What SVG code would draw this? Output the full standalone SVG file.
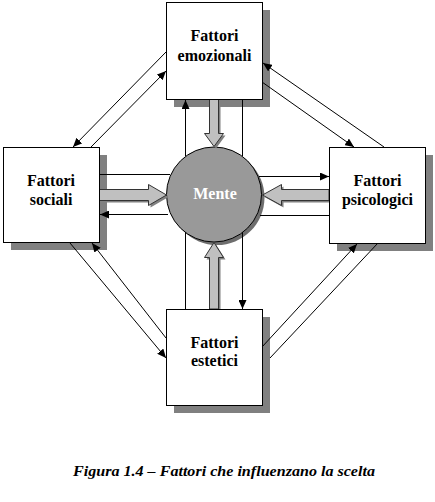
<svg xmlns="http://www.w3.org/2000/svg" width="435" height="502" viewBox="0 0 435 502">
<style>
.shadow{fill:#808080;}
.box{fill:#ffffff;stroke:#000000;stroke-width:1;}
.lbl{font-family:"Liberation Serif","Times New Roman",serif;font-weight:bold;font-size:16px;fill:#000000;text-anchor:middle;}
.ln{stroke:#000000;stroke-width:1;fill:none;}
.blk{fill:#c0c0c0;stroke:#333333;stroke-width:1;}
.blks{fill:#808080;}
</style>
<defs>
<marker id="ah" markerUnits="userSpaceOnUse" markerWidth="10" markerHeight="8" refX="9" refY="4" orient="auto">
<path d="M0,0 L9,4 L0,8 Z" fill="#000000"/>
</marker>
</defs>
<rect width="435" height="502" fill="#ffffff"/>
<g id="shadows">
<rect class="shadow" x="174" y="10" width="96" height="97"/>
<rect class="shadow" x="11" y="155" width="96" height="95"/>
<rect class="shadow" x="337" y="155" width="96" height="96"/>
<rect class="shadow" x="174" y="317" width="96" height="96"/>
</g>
<g id="mente">
<circle cx="217" cy="197.5" r="47.5" fill="#6e6e6e"/>
<circle cx="214" cy="194.5" r="47.5" fill="#999999" stroke="#000000" stroke-width="1"/>
<text x="215" y="199" font-family="Liberation Serif, Times New Roman, serif" font-weight="bold" font-size="16" fill="#ffffff" text-anchor="middle">Mente</text>
</g>
<g id="block-arrows">
<path class="blks" transform="translate(2,2)" d="M209.5,99.5 H218.5 V133.5 H223.5 L214,146.5 L204.5,133.5 H209.5 Z"/>
<path class="blk" d="M209.5,99.5 H218.5 V133.5 H223.5 L214,146.5 L204.5,133.5 H209.5 Z"/>
<path class="blks" transform="translate(2,2)" d="M209.5,309 V257.5 H204.5 L214,242.5 L223.5,257.5 H218.5 V309 Z"/>
<path class="blk" d="M209.5,309 V257.5 H204.5 L214,242.5 L223.5,257.5 H218.5 V309 Z"/>
<path class="blks" transform="translate(2,2)" d="M99,189.5 H148.5 V184.5 L166.5,195 L148.5,205.5 V200.5 H99 Z"/>
<path class="blk" d="M99,189.5 H148.5 V184.5 L166.5,195 L148.5,205.5 V200.5 H99 Z"/>
<path class="blks" transform="translate(2,2)" d="M329,189.5 H281.5 V184.5 L262.5,195 L281.5,205.5 V200.5 H329 Z"/>
<path class="blk" d="M329,189.5 H281.5 V184.5 L262.5,195 L281.5,205.5 V200.5 H329 Z"/>
</g>
<g id="emozionali">
<rect class="box" x="166.5" y="2.5" width="96" height="97"/>
<text class="lbl" x="214.5" y="41">Fattori</text>
<text class="lbl" x="214.5" y="61">emozionali</text>
</g>
<g id="sociali">
<rect class="box" x="3.5" y="147.5" width="96" height="95"/>
<text class="lbl" x="51" y="186">Fattori</text>
<text class="lbl" x="51" y="205">sociali</text>
</g>
<g id="psicologici">
<rect class="box" x="329.5" y="147.5" width="96" height="96"/>
<text class="lbl" x="377.5" y="186">Fattori</text>
<text class="lbl" x="377.5" y="205">psicologici</text>
</g>
<g id="estetici">
<rect class="box" x="166.5" y="309.5" width="96" height="96"/>
<text class="lbl" x="214.5" y="348">Fattori</text>
<text class="lbl" x="214.5" y="366">estetici</text>
</g>
<g id="connectors">
<line class="ln" x1="185.5" y1="156" x2="185.5" y2="100" marker-end="url(#ah)"/>
<line class="ln" x1="242.5" y1="100" x2="242.5" y2="156"/>
<line class="ln" x1="185.5" y1="232" x2="185.5" y2="309"/>
<line class="ln" x1="242.5" y1="232" x2="242.5" y2="309" marker-end="url(#ah)"/>
<line class="ln" x1="100" y1="174.5" x2="170" y2="174.5"/>
<line class="ln" x1="168" y1="214.5" x2="100" y2="214.5" marker-end="url(#ah)"/>
<line class="ln" x1="259" y1="176.5" x2="329" y2="176.5" marker-end="url(#ah)"/>
<line class="ln" x1="260" y1="215.5" x2="329" y2="215.5"/>
<line class="ln" x1="166" y1="52" x2="73" y2="147" marker-end="url(#ah)"/>
<line class="ln" x1="91" y1="147" x2="166" y2="71" marker-end="url(#ah)"/>
<line class="ln" x1="384" y1="147" x2="263" y2="63" marker-end="url(#ah)"/>
<line class="ln" x1="262" y1="82" x2="354" y2="147" marker-end="url(#ah)"/>
<line class="ln" x1="70" y1="243" x2="166" y2="358" marker-end="url(#ah)"/>
<line class="ln" x1="166" y1="338" x2="92" y2="243" marker-end="url(#ah)"/>
<line class="ln" x1="262" y1="347" x2="357" y2="244" marker-end="url(#ah)"/>
<line class="ln" x1="270" y1="358" x2="378" y2="243"/>
</g>
<text x="224" y="476" font-family="Liberation Serif, Times New Roman, serif" font-weight="bold" font-style="italic" font-size="14" fill="#000000" text-anchor="middle" textLength="302" lengthAdjust="spacingAndGlyphs">Figura 1.4 – Fattori che influenzano la scelta</text>
</svg>
